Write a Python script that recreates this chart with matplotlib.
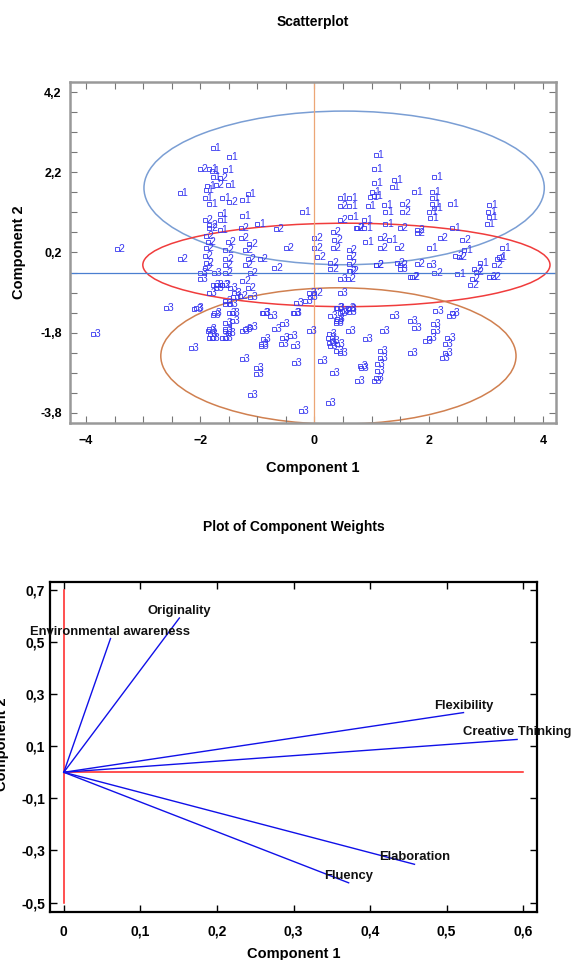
import matplotlib.pyplot as plt
import numpy as np
from matplotlib.patches import Ellipse
from matplotlib.ticker import FuncFormatter, MultipleLocator

plt.rcParams['font.family'] = ['Liberation Sans', 'DejaVu Sans']

# cluster scores (component 1, component 2)
c1_x = [-1.78, -1.49, -1.84, -1.56, -1.78, -1.52, -1.90, -2.36, -1.92, -1.84, -1.61, -1.26,
        -1.17, -0.21, -1.66, -1.66, -1.26, -1.00, -1.66, -1.88, -1.80, 1.07, 1.05, 1.05,
        1.01, 1.05, 0.98, 1.40, 1.35, 1.75, 2.10, 2.06, 2.05, 2.06, 2.01, 2.03, 2.10, 2.38,
        3.06, 3.06, 3.02, 3.04, 0.44, 0.61, 0.61, 0.93, 1.22, 1.24, 0.63, 0.87, 1.24, 2.41,
        0.89, 1.31, 2.01, 2.62, 2.50, 2.90, 3.29, 0.87, 3.23]
c1_y = [2.80, 2.58, 2.28, 2.25, 2.08, 1.88, 1.75, 1.68, 1.55, 1.40, 1.55, 1.50,
        1.65, 1.20, 1.17, 1.00, 1.12, 0.92, 0.75, 1.85, 2.22, 2.62, 2.28, 1.93,
        1.72, 1.62, 1.58, 2.00, 1.83, 1.72, 2.08, 1.72, 1.55, 1.42, 1.20, 1.05, 1.30, 1.42,
        1.38, 1.08, 0.90, 1.20, 1.55, 1.55, 1.35, 1.35, 1.38, 1.20, 1.08, 1.00, 0.90, 0.82,
        0.45, 0.50, 0.30, 0.25, -0.33, -0.05, 0.30, 0.80, 0.08]

c2_x = [-2.00, -1.66, -1.73, -1.49, -1.92, -1.84, -1.29, -0.68, 0.45, 1.54, 1.54, 0.44,
        -1.84, -1.90, -1.87, -1.90, -1.92, -1.90, -1.92, -2.36, -1.52, -1.56, -1.56, -1.57,
        -1.57, -1.29, -1.14, -1.22, -1.17, -1.22, -0.96, -1.13, -1.26, -1.17, -1.31, -1.61,
        -0.50, -0.70, 0.00, 0.00, 0.05, 0.00, 0.32, 0.35, 0.32, 0.28, 0.60, 0.60, 0.61,
        0.61, 0.58, 0.75, 1.15, 1.15, 1.45, 1.07, 1.45, 1.68, 1.80, 2.10, 2.20, 2.59, 1.80,
        2.47, 2.80, 2.76, 2.73, 3.06, 3.20, 3.15, -3.46, 0.72, 1.49, 1.80, 0.28, 0.63,
        1.07, 1.49, 1.70, 2.53, 2.83, 3.13]
c2_y = [2.28, 2.05, 1.88, 1.45, 1.00, 0.88, 0.80, 0.78, 1.35, 1.42, 1.20, 1.00,
        0.80, 0.62, 0.45, 0.30, 0.12, -0.05, -0.18, 0.05, 0.45, 0.25, 0.05, -0.12,
        -0.32, 0.57, 0.42, 0.25, 0.05, -0.12, 0.05, -0.32, -0.50, -0.68, -0.88, -0.62,
        0.30, -0.18, 0.55, 0.32, 0.08, -0.82, 0.70, 0.50, 0.30, -0.05, 0.25, 0.08, -0.08,
        -0.25, -0.45, 0.80, 0.57, 0.32, 0.32, -0.12, -0.05, -0.42, -0.08, -0.30, 0.57, 0.50, 0.75,
        0.12, -0.20, -0.45, -0.62, -0.42, 0.05, -0.12, 0.28, 0.82, 0.82, 0.68, -0.22, -0.25,
        -0.12, -0.10, -0.42, 0.08, -0.28, -0.42]

c3_x = [-3.88, -2.60, -2.10, -1.78, -2.17, -2.00, -2.00, -1.75, -1.73, -1.61, -1.84, -1.47,
        -1.45, -1.45, -1.56, -1.57, -1.57, -1.84, -1.84, -1.22, -1.12, -1.26, -1.03, -1.03,
        -1.12, -0.90, -0.78, -0.90, -0.94, -0.70, -0.56, -0.56, -0.59, -0.38, -0.42, -0.38,
        -0.35, -0.24, -1.75, -1.56, -1.49, -1.87, -1.82, -1.80, -1.61, -1.56, -1.52, -1.26,
        -0.93, -0.92, -0.35, -0.09, -0.33, -0.17, 0.09, 0.23, 0.26, 0.31, 0.28, 0.40, 0.37,
        0.44, 0.28, 0.40, 0.37, 0.37, 0.49, 0.61, 0.26, 0.31, 0.23, 0.58, 0.89, 0.80, 0.82,
        0.75, 1.14, 1.14, 1.10, 1.10, 1.07, 1.05, 1.19, 1.36, 1.68, 1.75, 1.68, 2.12, 2.07,
        2.07, 2.01, 1.93, 2.36, 2.33, 2.29, 2.29, 2.24, 2.41, -0.07, -0.09, 0.44, 0.44,
        0.37, 0.61, -1.78, -1.73, -1.47, -1.40, -1.43, -1.56, -1.13, -2.08, 0.45, 1.49,
        2.01, 0.40, 0.58]
c3_y = [-1.82, -1.18, -1.20, -1.35, -2.18, -0.30, -0.45, -0.32, -0.62, -0.62, -0.82, -1.08,
        -1.30, -1.50, -1.55, -1.75, -1.92, -1.70, -1.92, -1.70, -1.65, -2.45, -2.68, -2.82,
        -3.35, -1.32, -1.38, -1.95, -2.08, -1.70, -1.58, -1.92, -2.08, -1.30, -1.88, -2.12,
        -2.55, -3.75, -1.32, -1.08, -1.32, -1.75, -1.82, -1.92, -1.92, -1.70, -1.80, -1.75,
        -2.12, -1.32, -1.32, -1.75, -1.05, -1.00, -2.50, -1.92, -2.05, -2.00, -2.12, -2.08, -2.25,
        -2.30, -1.38, -1.45, -1.55, -1.18, -1.25, -1.20, -1.82, -2.80, -3.55, -1.75, -1.95, -2.62, -2.68,
        -3.00, -2.25, -2.42, -2.58, -2.75, -2.92, -3.00, -1.75, -1.38, -1.50, -1.68, -2.30, -1.25, -1.58,
        -1.75, -1.92, -2.00, -1.38, -1.92, -2.08, -2.30, -2.42, -1.32, -0.90, -0.80, -0.82, -1.30,
        -1.50, -1.28, -0.62, -0.68, -0.68, -0.80, -0.92, -1.00, -0.92, -1.18, -0.45, -0.20,
        -0.12, -1.18, -1.18]

# cluster ellipses: centre x, centre y, width, height
ell_cx = [0.52, 0.56, 0.42]
ell_cy = [1.81, -0.11, -2.38]
ell_w = [7.01, 7.13, 6.22]
ell_h = [3.83, 2.08, 3.40]
ell_col = ['#7a9ed4', '#f03c3c', '#d08050']

# component weights
var_names = ['Environmental awareness', 'Originality', 'Flexibility', 'Creative Thinking',
             'Elaboration', 'Fluency']
w1 = [0.061, 0.151, 0.522, 0.592, 0.458, 0.372]
w2 = [0.513, 0.592, 0.229, 0.126, -0.353, -0.424]

comma = FuncFormatter(lambda v, p: ('%g' % round(v, 2)).replace('.', ','))
blue = '#3636f0'

fig = plt.figure(figsize=(5.72, 9.6), dpi=100)

# ---- scatterplot
ax = fig.add_axes([70 / 572, 1 - 423 / 960, 486 / 572, 341 / 960])
for i, (xs, ys) in enumerate([(c1_x, c1_y), (c2_x, c2_y), (c3_x, c3_y)]):
    ax.plot(xs, ys, 's', ms=2.2, mfc='none', mec=blue, mew=0.6)
    for x, y in zip(xs, ys):
        ax.annotate(str(i + 1), (x, y), xytext=(1.2, 0), textcoords='offset points',
                    ha='left', va='center', fontsize=7.5, color=blue)
for cx, cy, w, h, c in zip(ell_cx, ell_cy, ell_w, ell_h, ell_col):
    ax.add_patch(Ellipse((cx, cy), w, h, fill=False, ec=c, lw=1.1))
ax.axhline(-0.3, color='#4a7fd0', lw=0.9)
ax.axvline(0, color='#eca676', lw=0.9)
ax.set_xlim(-4.28, 4.23)
ax.set_ylim(-4.05, 4.45)
ax.set_xticks([-4, -2, 0, 2, 4])
ax.set_yticks([-3.8, -1.8, 0.2, 2.2, 4.2])
ax.xaxis.set_minor_locator(MultipleLocator(0.5))
ax.set_yticks(np.arange(-3.8, 4.3, 0.5), minor=True)
ax.yaxis.set_major_formatter(comma)
ax.tick_params(which='both', direction='in', top=True, right=True, length=5,
               width=0.8, color='#777777', labelsize=9)
ax.tick_params(axis='x', pad=9)
ax.tick_params(axis='y', pad=6)
for lab in ax.get_xticklabels() + ax.get_yticklabels():
    lab.set_fontweight('bold')
for s in ax.spines.values():
    s.set_color('#999999')
    s.set_linewidth(1.8)
ax.set_title('Scatterplot', fontsize=10, fontweight='bold', pad=40)
ax.set_xlabel('Component 1', fontsize=10.5, fontweight='bold', labelpad=10)
ax.set_ylabel('Component 2', fontsize=10.5, fontweight='bold', labelpad=10)

# ---- component weights
bx = fig.add_axes([50 / 572, 1 - 912 / 960, 487 / 572, 330 / 960])
bx.plot([0, 0], [-0.5, 0.7], color='#ff2020', lw=1.1)
bx.plot([0, 0.6], [0, 0], color='#ff2020', lw=1.1)
for name, a, b in zip(var_names, w1, w2):
    bx.plot([0, a], [0, b], color='#1010e8', lw=1.0)
    bx.text(a, b + 0.004, name, ha='center', va='bottom', fontsize=9.4,
            fontweight='bold', color='#111111', clip_on=False)
bx.set_xlim(-0.018, 0.618)
bx.set_ylim(-0.536, 0.73)
bx.set_xticks(np.arange(0, 0.61, 0.1))
bx.set_yticks(np.arange(-0.5, 0.71, 0.2))
bx.xaxis.set_major_formatter(comma)
bx.yaxis.set_major_formatter(comma)
bx.tick_params(direction='in', top=True, right=True, length=5, width=1.0, labelsize=10)
bx.tick_params(axis='x', pad=9)
for lab in bx.get_xticklabels() + bx.get_yticklabels():
    lab.set_fontweight('bold')
for s in bx.spines.values():
    s.set_linewidth(1.6)
bx.set_title('Plot of Component Weights', fontsize=10, fontweight='bold', pad=37)
bx.set_xlabel('Component 1', fontsize=10.5, fontweight='bold', labelpad=6)
fig.text(0.004, 0.225, 'Component 2', rotation=90, ha='center', va='center',
         fontsize=10.5, fontweight='bold')

fig.savefig('out.png', dpi=100)
